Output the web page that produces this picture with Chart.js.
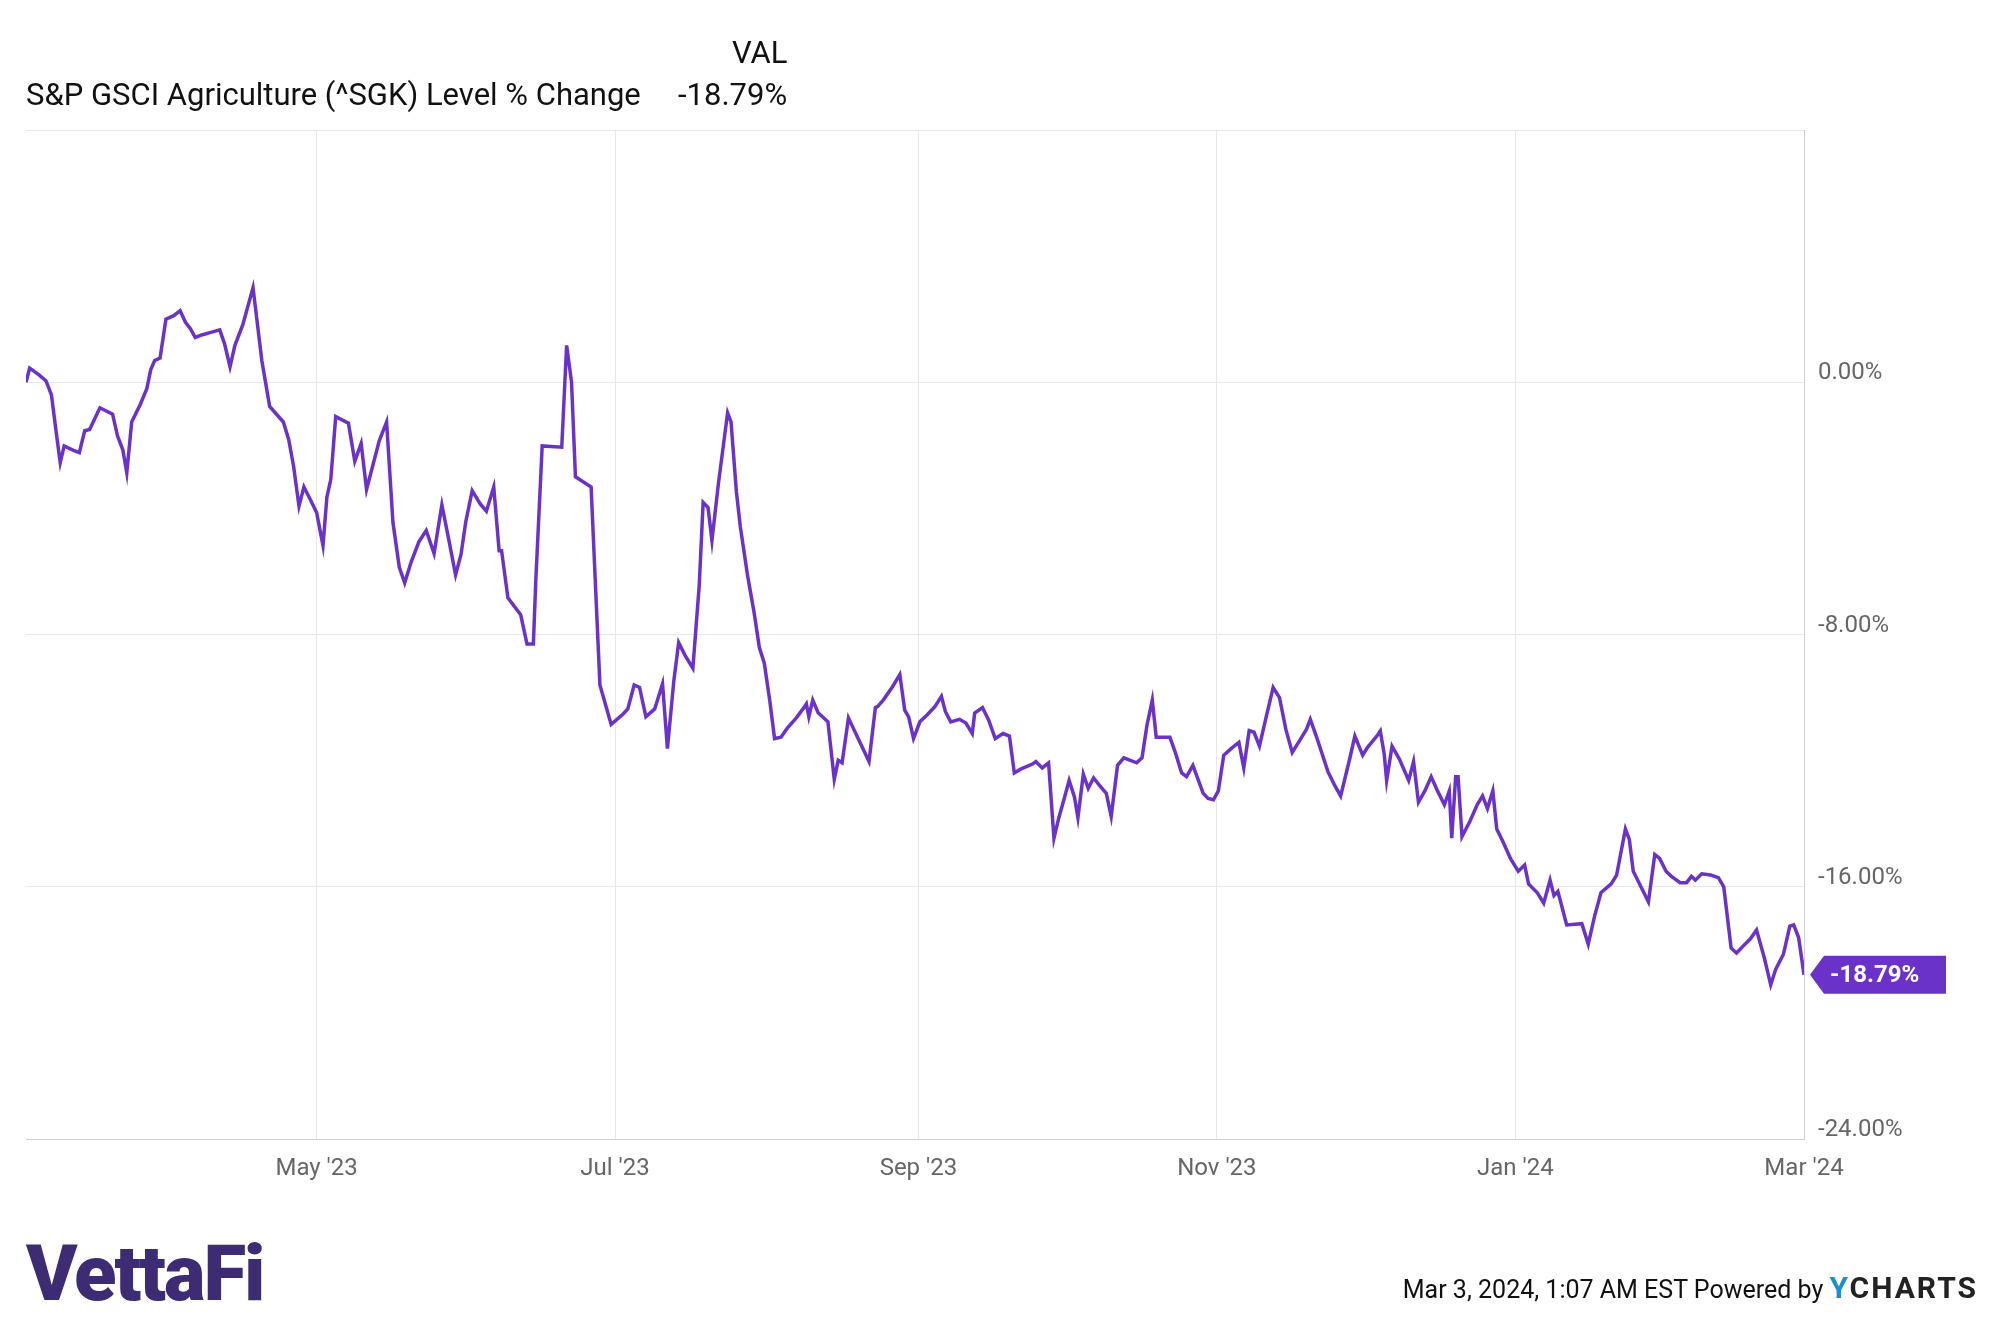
<!DOCTYPE html>
<html>
<head>
<meta charset="utf-8">
<script src="https://cdn.jsdelivr.net/npm/chart.js@4/dist/chart.umd.min.js"></script>
<style>
  body { margin: 0; width: 2000px; height: 1317px; background: #fff; font-family: Roboto, sans-serif; position: relative; overflow: hidden; }
  #wrap { position: absolute; left: 0; top: 0; width: 2000px; height: 1317px; }
  .t { position: absolute; color: #111; font-size: 31px; white-space: nowrap; }
  #logo { position: absolute; left: 26px; top: 1228px; font-size: 78px; font-weight: 900; color: #3d2b73; letter-spacing: -2px; }
  #foot { position: absolute; right: 22px; top: 1270px; font-size: 25px; color: #111; white-space: nowrap; }
  #foot b { font-size: 30px; letter-spacing: 2px; color: #222; }
  #foot b span { color: #1a8fd6; }
</style>
</head>
<body>
<div id="wrap"><canvas id="chart"></canvas></div>
<div class="t" style="left:732px; top:34px;">VAL</div>
<div class="t" style="left:26px; top:76px;">S&amp;P GSCI Agriculture (^SGK) Level % Change</div>
<div class="t" style="left:678px; top:76px;">-18.79%</div>
<div id="logo">VettaFi</div>
<div id="foot">Mar 3, 2024, 1:07 AM EST Powered by <b><span>Y</span>CHARTS</b></div>
<script>
// dagen sinds 1 maart 2023
const days = [1.6,2.35,4.2,5.7,6.8,7.8,8.6,9.4,11.2,12.5,13.6,14.6,15.6,16.7,19.3,20.3,21.4,22.2,23.2,25.0,26.3,27.1,27.9,29.0,30.2,31.8,33.1,34.2,35.2,36.2,37.5,39.4,41.2,42.2,43.3,44.3,45.9,48.0,49.8,51.4,54.2,55.3,56.3,57.4,58.4,59.7,61.0,62.3,63.1,63.9,64.9,67.5,68.8,70.1,71.2,73.8,75.3,76.6,77.9,79.0,80.3,81.9,83.4,85.0,86.6,88.1,89.4,90.5,91.5,92.8,94.4,95.7,97.2,98.3,98.8,100.1,102.7,104.0,105.3,105.8,107.1,111.1,112.1,113.1,113.9,117.1,118.9,121.2,123.6,124.6,125.9,127.0,128.3,130.1,131.7,132.7,134.0,135.0,136.3,137.9,139.2,140.0,141.0,141.8,143.1,145.0,145.7,146.8,147.6,149.1,150.4,151.5,152.5,153.6,154.6,155.9,157.2,159.0,160.6,161.1,161.6,162.4,163.5,165.5,166.8,167.6,168.4,169.7,171.8,173.9,175.2,175.7,176.8,178.6,180.2,181.2,182.0,183.0,184.3,185.9,187.4,188.7,189.5,190.6,192.4,193.7,195.0,195.5,197.1,198.4,199.7,201.3,202.6,203.6,204.9,207.3,208.0,209.3,210.6,211.7,212.7,213.8,214.8,215.9,216.6,217.7,218.7,219.8,221.3,222.4,223.4,224.7,226.0,228.6,229.7,230.7,231.8,232.6,235.4,236.5,237.8,238.8,240.1,242.2,243.2,244.3,245.3,246.4,247.9,249.5,250.5,251.6,252.6,253.7,255.2,256.5,257.8,259.1,260.4,262.0,263.3,264.1,265.4,267.7,269.0,270.3,272.2,273.2,274.8,275.8,277.9,278.4,279.2,279.7,280.8,282.3,284.2,285.2,286.2,287.5,288.8,290.1,291.5,292.5,293.0,293.8,294.3,295.1,296.7,298.2,299.3,300.3,301.4,302.2,303.5,305.0,306.6,307.9,308.7,310.5,311.8,313.1,313.9,314.7,316.5,319.6,320.9,322.2,323.5,325.6,326.7,327.7,328.5,329.3,330.1,331.9,333.2,334.5,335.5,336.8,337.9,339.7,341.0,342.0,342.8,344.1,345.9,347.5,348.6,350.1,351.2,352.7,354.0,355.3,356.9,358.2,359.2,360.8,362.1,362.9,363.9,365.0];
const values = [0,0.45,0.24,0.04,-0.40,-1.62,-2.55,-2.02,-2.15,-2.23,-1.54,-1.50,-1.17,-0.81,-1.01,-1.70,-2.15,-2.87,-1.26,-0.69,-0.20,0.40,0.69,0.77,2.00,2.11,2.27,1.90,1.70,1.42,1.50,1.58,1.66,1.21,0.49,1.17,1.82,3.00,0.69,-0.77,-1.26,-1.82,-2.67,-3.93,-3.32,-3.72,-4.13,-5.18,-3.64,-3.08,-1.09,-1.30,-2.51,-1.94,-3.40,-1.86,-1.26,-4.45,-5.87,-6.36,-5.71,-5.06,-4.70,-5.43,-3.89,-5.06,-6.11,-5.47,-4.41,-3.44,-3.85,-4.09,-3.32,-5.34,-5.34,-6.84,-7.37,-8.30,-8.30,-6.28,-2.02,-2.06,1.17,0,-3.00,-3.32,-9.60,-10.85,-10.53,-10.36,-9.60,-9.68,-10.61,-10.36,-9.56,-11.62,-9.48,-8.26,-8.66,-9.07,-6.44,-3.81,-3.97,-5.02,-3.24,-0.97,-1.26,-3.48,-4.58,-6.15,-7.29,-8.42,-8.91,-10.08,-11.30,-11.26,-10.97,-10.65,-10.32,-10.20,-10.61,-10.08,-10.48,-10.77,-12.59,-11.99,-12.07,-10.65,-11.34,-12.03,-10.32,-10.28,-10.08,-9.68,-9.27,-10.40,-10.61,-11.30,-10.77,-10.53,-10.28,-9.96,-10.44,-10.77,-10.69,-10.81,-11.14,-10.49,-10.32,-10.73,-11.30,-11.14,-11.22,-12.39,-12.27,-12.11,-12.03,-12.23,-12.07,-14.46,-13.81,-13.20,-12.63,-13.16,-13.81,-12.43,-12.88,-12.55,-12.84,-13.04,-13.77,-12.15,-11.91,-12.07,-11.91,-10.89,-10.08,-11.26,-11.26,-11.74,-12.39,-12.51,-12.15,-13.04,-13.20,-13.24,-12.96,-11.83,-11.62,-11.42,-12.23,-11.05,-11.10,-11.54,-10.53,-9.68,-10.00,-11.01,-11.74,-11.34,-11.01,-10.69,-11.26,-12.35,-12.76,-13.12,-11.91,-11.22,-11.83,-11.58,-11.18,-11.06,-11.79,-12.63,-11.54,-11.95,-12.63,-12.03,-13.32,-12.96,-12.51,-12.96,-13.40,-12.96,-14.46,-12.51,-12.51,-14.41,-13.93,-13.40,-13.12,-13.52,-12.96,-14.17,-14.58,-15.10,-15.51,-15.31,-15.91,-16.19,-16.52,-15.79,-16.28,-16.15,-17.21,-17.17,-17.82,-16.93,-16.19,-15.91,-15.63,-14.82,-14.17,-14.50,-15.51,-16.07,-16.48,-14.98,-15.10,-15.51,-15.67,-15.87,-15.87,-15.67,-15.79,-15.59,-15.63,-15.71,-16.00,-17.94,-18.10,-17.86,-17.66,-17.37,-18.26,-19.11,-18.62,-18.14,-17.25,-17.21,-17.61,-18.79];
const tickDays = [61, 122, 184, 245, 306, 365];
const tickLabels = ["May '23", "Jul '23", "Sep '23", "Nov '23", "Jan '24", "Mar '24"];
const yTicks = [8, 0, -8, -16, -24];

const purple = '#6a32c9';

const lastLabel = {
  id: 'lastLabel',
  afterDraw(chart) {
    const { ctx } = chart;
    const y = chart.scales.y.getPixelForValue(values[values.length - 1]);
    const x0 = chart.chartArea.right + 6, w = 136, h = 38;
    ctx.save();
    ctx.fillStyle = purple;
    ctx.beginPath();
    ctx.moveTo(x0, y);
    ctx.lineTo(x0 + 14, y - h / 2);
    ctx.lineTo(x0 + w, y - h / 2);
    ctx.lineTo(x0 + w, y + h / 2);
    ctx.lineTo(x0 + 14, y + h / 2);
    ctx.closePath();
    ctx.fill();
    ctx.fillStyle = '#fff';
    ctx.font = 'bold 24px Roboto';
    ctx.textBaseline = 'middle';
    ctx.fillText('-18.79%', x0 + 20, y + 1);
    ctx.restore();
  }
};

new Chart(document.getElementById('chart'), {
  type: 'line',
  data: {
    datasets: [{
      data: days.map((d, i) => ({ x: d, y: values[i] })),
      borderColor: purple,
      borderWidth: 3.5,
      pointRadius: 0,
      tension: 0,
      fill: false,
    }],
  },
  options: {
    responsive: true,
    maintainAspectRatio: false,
    animation: false,
    layout: { padding: { left: 26, top: 130, right: 0, bottom: 0 } },
    plugins: { legend: { display: false }, tooltip: { enabled: false } },
    scales: {
      x: {
        type: 'linear',
        min: 1.6,
        max: 365,
        afterBuildTicks: (s) => { s.ticks = tickDays.map((v) => ({ value: v })); },
        afterFit: (s) => { s.height = 178; },
        grid: { color: '#e8e8e8', lineWidth: 1, drawTicks: false },
        border: { color: '#d0d0d0' },
        ticks: {
          color: '#666', font: { family: 'Roboto', size: 24 }, padding: 16, maxRotation: 0,
          callback: (v) => tickLabels[tickDays.indexOf(v)] ?? '',
        },
      },
      y: {
        position: 'right',
        min: -24,
        max: 8,
        afterBuildTicks: (s) => { s.ticks = yTicks.map((v) => ({ value: v })); },
        afterFit: (s) => { s.width = 196; },
        grid: { color: '#e8e8e8', lineWidth: 1, drawTicks: false },
        border: { color: '#d0d0d0' },
        ticks: {
          color: '#666', font: { family: 'Roboto', size: 24 }, padding: 14, labelOffset: -9,
          callback: (v) => (v === 8 ? '' : v.toFixed(2) + '%'),
        },
      },
    },
  },
  plugins: [lastLabel],
});
</script>
</body>
</html>
